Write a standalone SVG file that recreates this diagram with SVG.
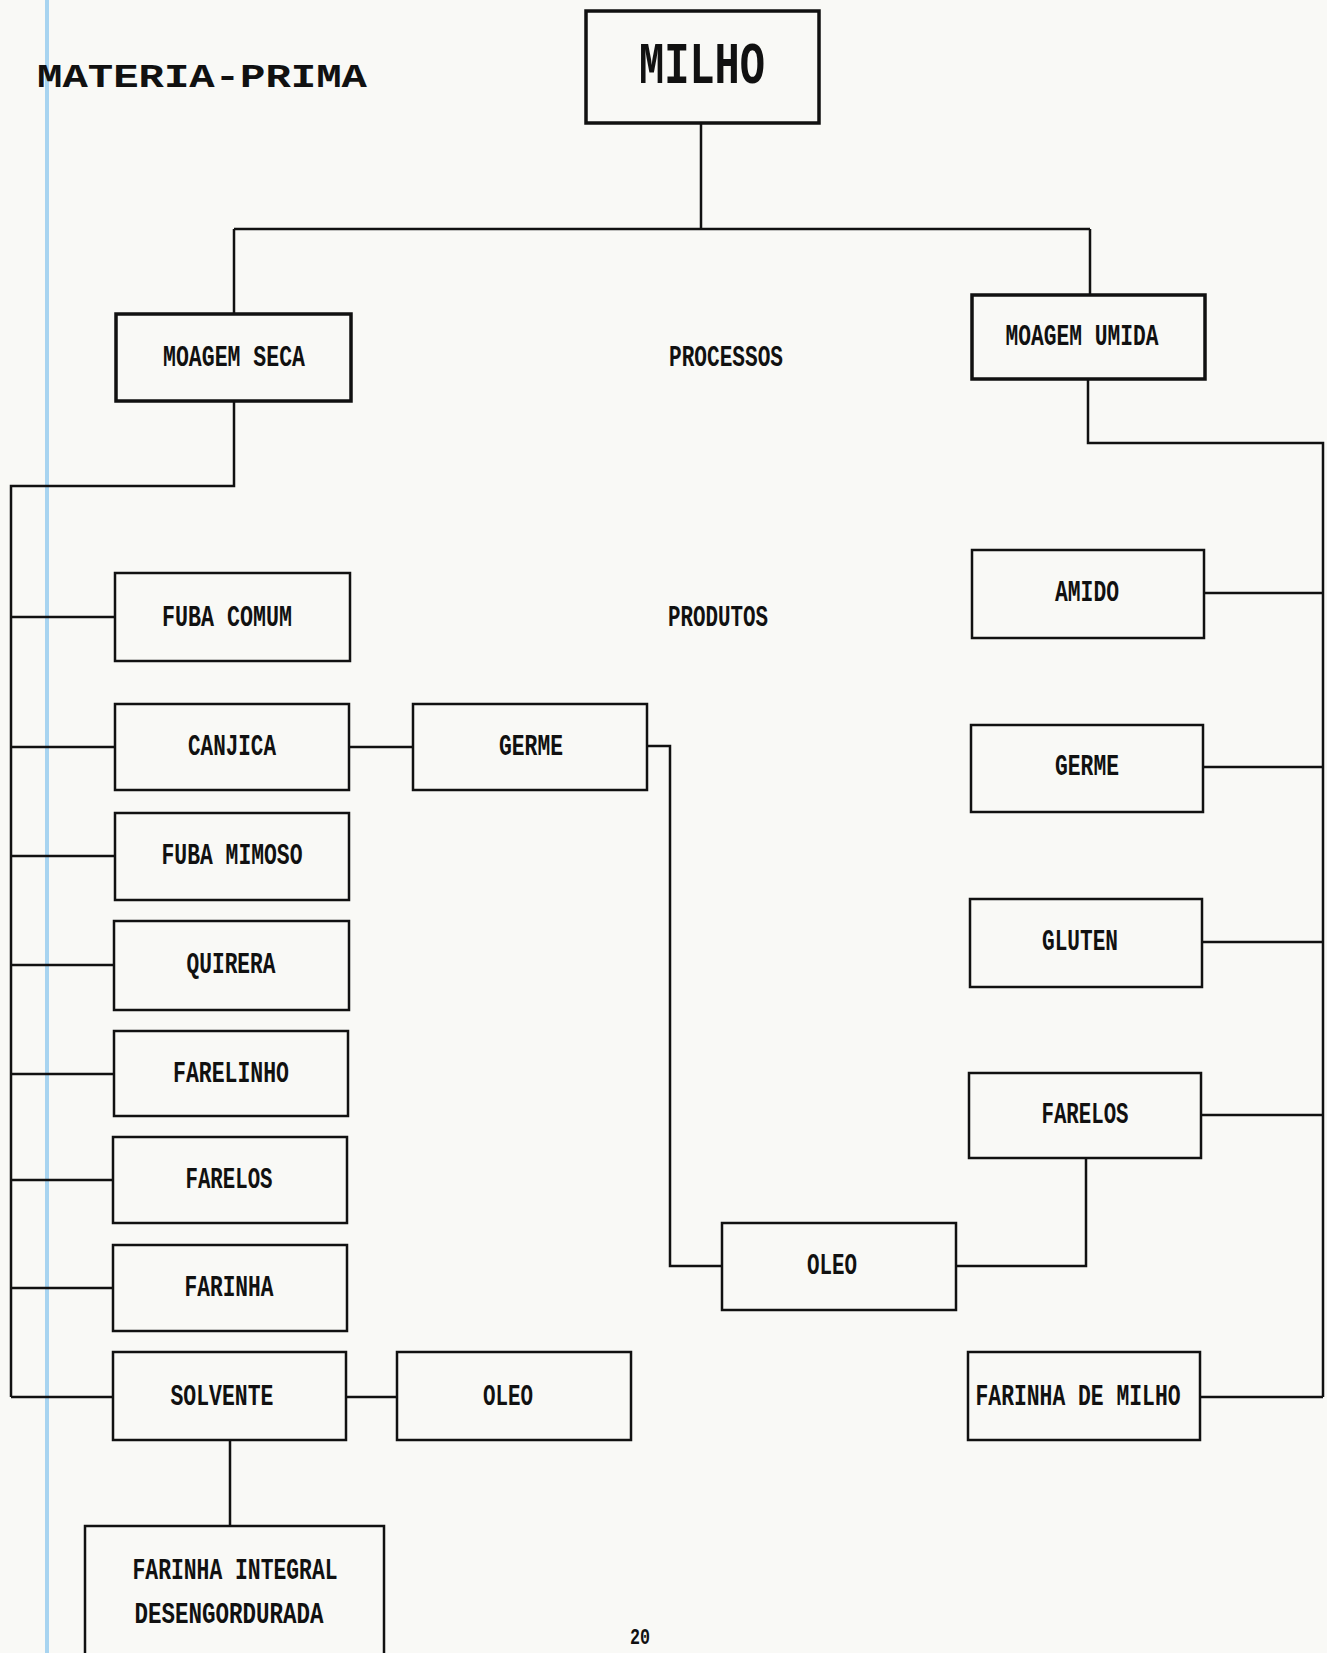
<svg xmlns="http://www.w3.org/2000/svg" width="1327" height="1653" viewBox="0 0 1327 1653">
<style>
.bx{fill:none;stroke:#111;stroke-width:2.5}
.bx3{fill:none;stroke:#111;stroke-width:3.5}
.ln{fill:none;stroke:#111;stroke-width:2.5}
.t{font-family:"Liberation Mono","DejaVu Sans Mono",monospace;font-weight:bold;font-size:30px;fill:#111;text-anchor:middle;dominant-baseline:central}
</style>
<rect x="0" y="0" width="1327" height="1653" fill="#f9f9f6"/>
<line x1="47" y1="0" x2="47" y2="1653" stroke="#a8d4f0" stroke-width="4"/>
<text x="37" y="78" class="t" style="text-anchor:start;font-size:33px" textLength="330" lengthAdjust="spacingAndGlyphs">MATERIA-PRIMA</text>
<text x="726" y="358" class="t" textLength="114" lengthAdjust="spacingAndGlyphs">PROCESSOS</text>
<text x="718" y="618" class="t" textLength="100" lengthAdjust="spacingAndGlyphs">PRODUTOS</text>
<text x="640" y="1644" class="t" style="font-size:22px;dominant-baseline:auto" textLength="20" lengthAdjust="spacingAndGlyphs">20</text>
<g id="connectors">
<path class="ln" d="M701,123V229M234,229H1090M234,229V314M1090,229V295"/>
<path class="ln" d="M234,401V486H11V1397M11,617H115M11,747H115M11,856H115M11,965H114M11,1074H114M11,1180H113M11,1288H113M11,1397H113"/>
<path class="ln" d="M1088,379V443H1323V1397M1204,593H1323M1203,767H1323M1202,942H1323M1201,1115H1323M1200,1397H1323"/>
<path class="ln" d="M349,747H413M647,746H670V1266H722M956,1266H1086V1158M346,1397H397M230,1440V1526"/>
</g>
<g id="milho"><rect class="bx3" x="586" y="11" width="233" height="112"/><text x="702" y="67" class="t" style="font-size:60px" textLength="126" lengthAdjust="spacingAndGlyphs">MILHO</text></g>
<g id="moagem-seca"><rect class="bx3" x="116" y="314" width="235" height="87"/><text x="234" y="358" class="t" textLength="142" lengthAdjust="spacingAndGlyphs">MOAGEM SECA</text></g>
<g id="moagem-umida"><rect class="bx3" x="972" y="295" width="233" height="84"/><text x="1082" y="337" class="t" textLength="153" lengthAdjust="spacingAndGlyphs">MOAGEM UMIDA</text></g>
<g id="fuba-comum"><rect class="bx" x="115" y="573" width="235" height="88"/><text x="227" y="618" class="t" textLength="130" lengthAdjust="spacingAndGlyphs">FUBA COMUM</text></g>
<g id="canjica"><rect class="bx" x="115" y="704" width="234" height="86"/><text x="232" y="747" class="t" textLength="88" lengthAdjust="spacingAndGlyphs">CANJICA</text></g>
<g id="germe-l"><rect class="bx" x="413" y="704" width="234" height="86"/><text x="531" y="747" class="t" textLength="64" lengthAdjust="spacingAndGlyphs">GERME</text></g>
<g id="fuba-mimoso"><rect class="bx" x="115" y="813" width="234" height="87"/><text x="232" y="856" class="t" textLength="141" lengthAdjust="spacingAndGlyphs">FUBA MIMOSO</text></g>
<g id="quirera"><rect class="bx" x="114" y="921" width="235" height="89"/><text x="231" y="965" class="t" textLength="89" lengthAdjust="spacingAndGlyphs">QUIRERA</text></g>
<g id="farelinho"><rect class="bx" x="114" y="1031" width="234" height="85"/><text x="231" y="1074" class="t" textLength="116" lengthAdjust="spacingAndGlyphs">FARELINHO</text></g>
<g id="farelos-l"><rect class="bx" x="113" y="1137" width="234" height="86"/><text x="229" y="1180" class="t" textLength="87" lengthAdjust="spacingAndGlyphs">FARELOS</text></g>
<g id="farinha"><rect class="bx" x="113" y="1245" width="234" height="86"/><text x="229" y="1288" class="t" textLength="89" lengthAdjust="spacingAndGlyphs">FARINHA</text></g>
<g id="solvente"><rect class="bx" x="113" y="1352" width="233" height="88"/><text x="222" y="1397" class="t" textLength="103" lengthAdjust="spacingAndGlyphs">SOLVENTE</text></g>
<g id="oleo-l"><rect class="bx" x="397" y="1352" width="234" height="88"/><text x="508" y="1397" class="t" textLength="50" lengthAdjust="spacingAndGlyphs">OLEO</text></g>
<g id="farinha-integral"><rect class="bx" x="85" y="1526" width="299" height="140"/><text x="235" y="1571" class="t" textLength="205" lengthAdjust="spacingAndGlyphs">FARINHA INTEGRAL</text><text x="229" y="1615" class="t" textLength="189" lengthAdjust="spacingAndGlyphs">DESENGORDURADA</text></g>
<g id="amido"><rect class="bx" x="972" y="550" width="232" height="88"/><text x="1087" y="593" class="t" textLength="64" lengthAdjust="spacingAndGlyphs">AMIDO</text></g>
<g id="germe-r"><rect class="bx" x="971" y="725" width="232" height="87"/><text x="1087" y="767" class="t" textLength="64" lengthAdjust="spacingAndGlyphs">GERME</text></g>
<g id="gluten"><rect class="bx" x="970" y="899" width="232" height="88"/><text x="1080" y="942" class="t" textLength="76" lengthAdjust="spacingAndGlyphs">GLUTEN</text></g>
<g id="farelos-r"><rect class="bx" x="969" y="1073" width="232" height="85"/><text x="1085" y="1115" class="t" textLength="87" lengthAdjust="spacingAndGlyphs">FARELOS</text></g>
<g id="oleo-m"><rect class="bx" x="722" y="1223" width="234" height="87"/><text x="832" y="1266" class="t" textLength="50" lengthAdjust="spacingAndGlyphs">OLEO</text></g>
<g id="farinha-de-milho"><rect class="bx" x="968" y="1352" width="232" height="88"/><text x="1078" y="1397" class="t" textLength="205" lengthAdjust="spacingAndGlyphs">FARINHA DE MILHO</text></g>
</svg>
